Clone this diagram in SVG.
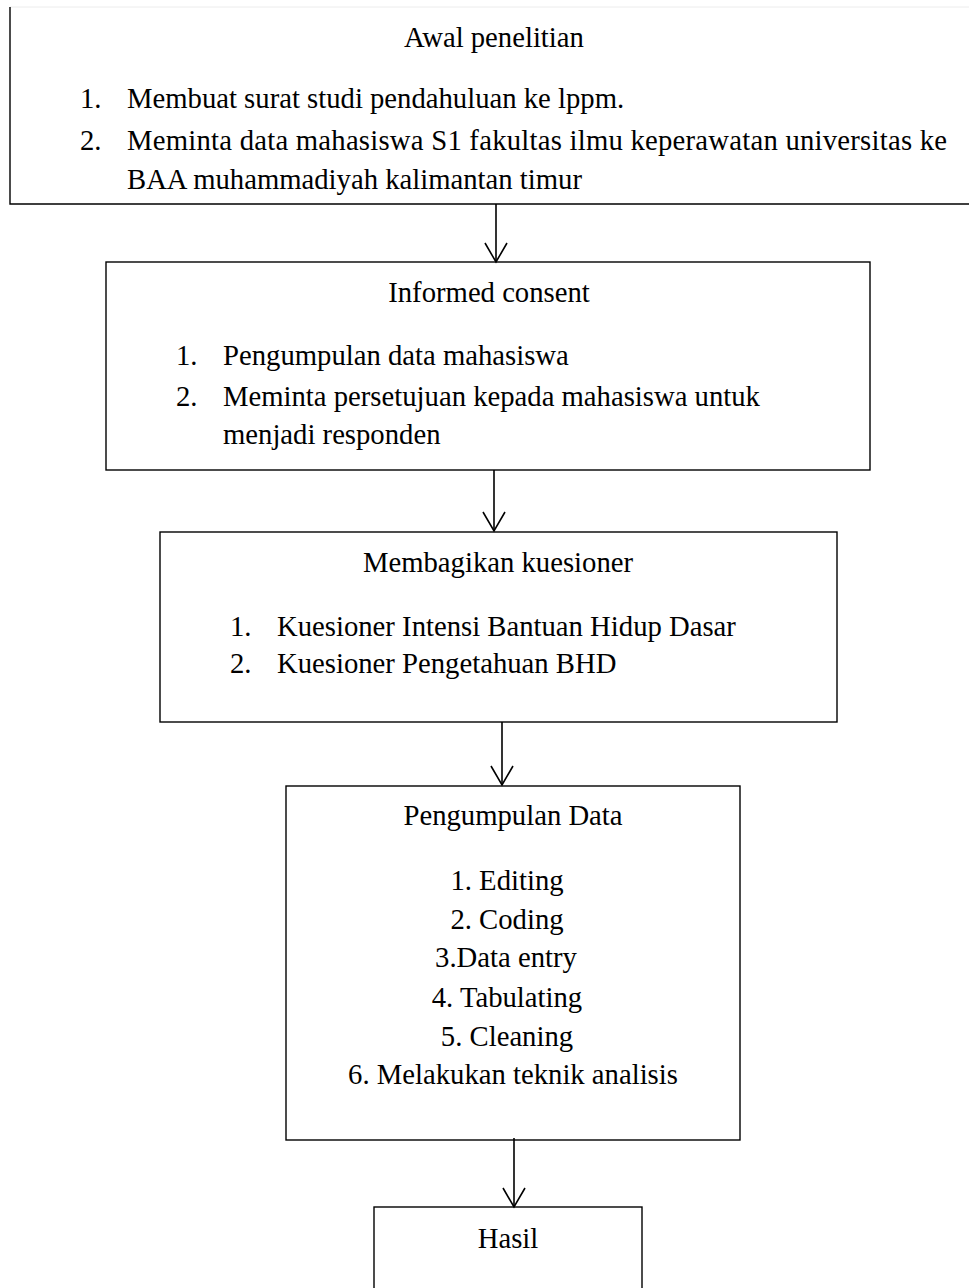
<svg xmlns="http://www.w3.org/2000/svg" width="969" height="1288" viewBox="0 0 969 1288">
<style>
.box{fill:#fff;stroke:#000;stroke-width:1.4}
.t{font-family:"Liberation Serif","Times New Roman",serif;font-size:28.7px;fill:#000}
.c{text-anchor:middle}
.con{stroke:#000;stroke-width:1.6;fill:none}
</style>
<defs>
<marker id="ah" markerUnits="userSpaceOnUse" markerWidth="26" markerHeight="28" viewBox="-21 -14 23 28" refX="0" refY="0" orient="auto">
<path d="M-19,-11 L0,0 L-19,11" fill="none" stroke="#000" stroke-width="1.6"/>
</marker>
</defs>
<rect width="969" height="1288" fill="#fff"/>
<g id="node-awal">
<line x1="10" y1="7" x2="969" y2="7" stroke="#ececec" stroke-width="1"/>
<path d="M10,7 L10,204 L969,204" fill="none" stroke="#000" stroke-width="1.4"/>
<text class="t c" x="494" y="47">Awal penelitian</text>
<text class="t" x="80" y="108">1.</text>
<text class="t" x="127" y="108">Membuat surat studi pendahuluan ke lppm.</text>
<text class="t" x="80" y="150">2.</text>
<text class="t" x="127" y="150" textLength="820" lengthAdjust="spacing">Meminta data mahasiswa S1 fakultas ilmu keperawatan universitas ke</text>
<text class="t" x="127" y="189">BAA muhammadiyah kalimantan timur</text>
</g>
<g id="node-informed">
<rect class="box" x="106" y="262" width="764" height="208"/>
<text class="t c" x="489" y="302">Informed consent</text>
<text class="t" x="176" y="365">1.</text>
<text class="t" x="223" y="365">Pengumpulan data mahasiswa</text>
<text class="t" x="176" y="406">2.</text>
<text class="t" x="223" y="406">Meminta persetujuan kepada mahasiswa untuk</text>
<text class="t" x="223" y="444">menjadi responden</text>
</g>
<g id="node-kuesioner">
<rect class="box" x="160" y="532" width="677" height="190"/>
<text class="t c" x="498" y="572">Membagikan kuesioner</text>
<text class="t" x="230" y="636">1.</text>
<text class="t" x="277" y="636">Kuesioner Intensi Bantuan Hidup Dasar</text>
<text class="t" x="230" y="673">2.</text>
<text class="t" x="277" y="673">Kuesioner Pengetahuan BHD</text>
</g>
<g id="node-pengumpulan">
<rect class="box" x="286" y="786" width="454" height="354"/>
<text class="t c" x="513" y="825">Pengumpulan Data</text>
<text class="t c" x="507" y="890">1. Editing</text>
<text class="t c" x="507" y="929">2. Coding</text>
<text class="t c" x="506" y="967">3.Data entry</text>
<text class="t c" x="507" y="1007">4. Tabulating</text>
<text class="t c" x="507" y="1046">5. Cleaning</text>
<text class="t c" x="513" y="1084">6. Melakukan teknik analisis</text>
</g>
<g id="node-hasil">
<rect class="box" x="374" y="1207" width="268" height="100"/>
<text class="t c" x="508" y="1248">Hasil</text>
</g>
<g id="connectors">
<line class="con" x1="496" y1="204" x2="496" y2="262" marker-end="url(#ah)"/>
<line class="con" x1="494" y1="470" x2="494" y2="531" marker-end="url(#ah)"/>
<line class="con" x1="502" y1="722" x2="502" y2="785" marker-end="url(#ah)"/>
<line class="con" x1="514" y1="1138" x2="514" y2="1207" marker-end="url(#ah)"/>
</g>
</svg>
